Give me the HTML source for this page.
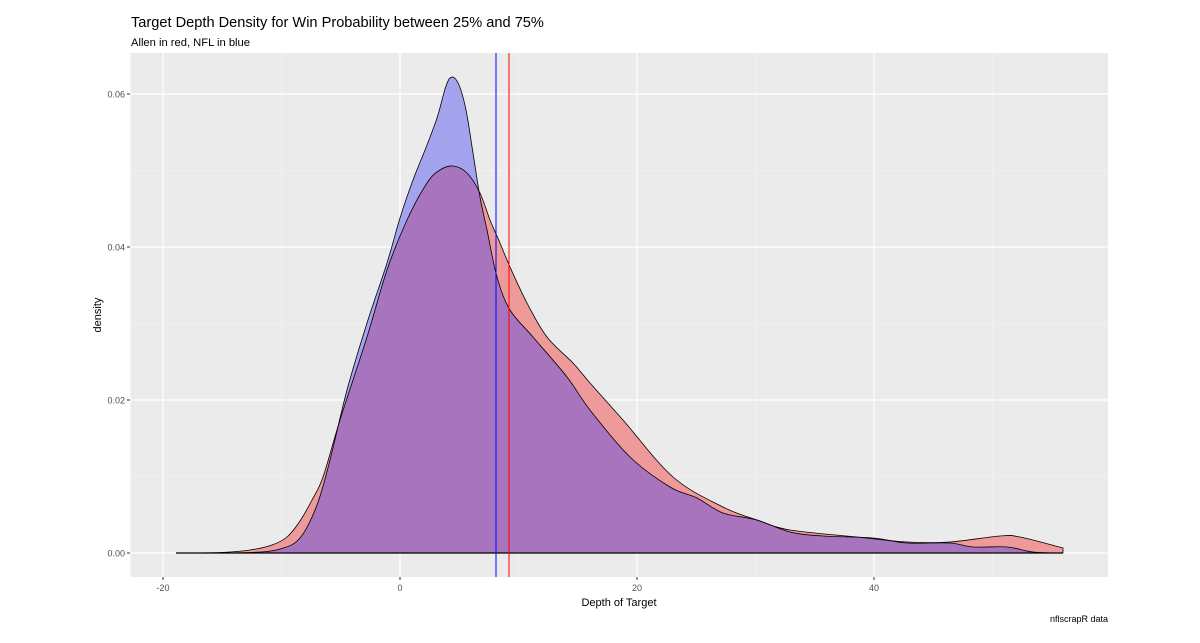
<!DOCTYPE html>
<html><head><meta charset="utf-8"><style>
html,body{margin:0;padding:0;background:#fff;}
svg text{font-family:"Liberation Sans",Arial,sans-serif;}
</style></head><body>
<svg id="s" width="1200" height="638" xmlns="http://www.w3.org/2000/svg">
<rect width="1200" height="638" fill="#fff"/>
<text x="131" y="27" font-size="14.6" fill="#000">Target Depth Density for Win Probability between 25% and 75%</text>
<text x="131" y="46" font-size="11.2" fill="#000">Allen in red, NFL in blue</text>
<rect x="130.5" y="53" width="977.5" height="524" fill="#ebebeb"/>
<g stroke="#f5f5f5" stroke-width="0.6">
<line x1="130.5" x2="1108" y1="476.5" y2="476.5"/><line x1="130.5" x2="1108" y1="323.5" y2="323.5"/><line x1="130.5" x2="1108" y1="170.5" y2="170.5"/>
<line y1="53" y2="577" x1="281.5" x2="281.5"/><line y1="53" y2="577" x1="518.5" x2="518.5"/><line y1="53" y2="577" x1="755.5" x2="755.5"/><line y1="53" y2="577" x1="992.5" x2="992.5"/>
</g>
<g stroke="#fff" stroke-width="1.2">
<line x1="130.5" x2="1108" y1="553" y2="553"/><line x1="130.5" x2="1108" y1="400" y2="400"/><line x1="130.5" x2="1108" y1="247" y2="247"/><line x1="130.5" x2="1108" y1="94" y2="94"/>
<line y1="53" y2="577" x1="163" x2="163"/><line y1="53" y2="577" x1="400" x2="400"/><line y1="53" y2="577" x1="637" x2="637"/><line y1="53" y2="577" x1="874" x2="874"/>
</g>
<defs><clipPath id="cb"><path id="bclip"/></clipPath></defs>
<path id="blue" fill="#a4a4ee" stroke="none"/>
<path id="red" fill="#ee9a9a" stroke="none"/>
<path id="pur" fill="#a874bd" stroke="none" clip-path="url(#cb)"/>
<path id="bl" fill="none" stroke="#000" stroke-width="0.8"/>
<path id="rl" fill="none" stroke="#000" stroke-width="0.8"/>
<line x1="176" x2="1063" y1="553" y2="553" stroke="#000" stroke-width="1.2"/>
<line x1="496" x2="496" y1="53" y2="577" stroke="#0000ff" stroke-width="1"/>
<line x1="509" x2="509" y1="53" y2="577" stroke="#ff0000" stroke-width="1"/>
<g stroke="#333" stroke-width="1">
<line x1="127" x2="130" y1="553" y2="553"/><line x1="127" x2="130" y1="400" y2="400"/><line x1="127" x2="130" y1="247" y2="247"/><line x1="127" x2="130" y1="94" y2="94"/>
<line y1="577" y2="580" x1="163" x2="163"/><line y1="577" y2="580" x1="400" x2="400"/><line y1="577" y2="580" x1="637" x2="637"/><line y1="577" y2="580" x1="874" x2="874"/>
</g>
<g font-size="9" fill="#4d4d4d" text-anchor="end">
<text x="125" y="556.5">0.00</text><text x="125" y="403.5">0.02</text><text x="125" y="250.5">0.04</text><text x="125" y="97.5">0.06</text>
</g>
<g font-size="9" fill="#4d4d4d" text-anchor="middle">
<text x="163" y="591">-20</text><text x="400" y="591">0</text><text x="637" y="591">20</text><text x="874" y="591">40</text>
</g>
<text x="619" y="606" font-size="11" text-anchor="middle" fill="#000">Depth of Target</text>
<text x="101" y="315" font-size="11" text-anchor="middle" fill="#000" transform="rotate(-90 101 315)">density</text>
<text x="1108" y="622" font-size="9" text-anchor="end" fill="#000">nflscrapR data</text>
</svg>
<script>
var B=[[176,553],[250,552.5],[280,549],[300,538],[317,505],[330,460],[347,390],[367,323],[387,263],[400,218],[413,180],[425,150],[437,118],[446,86],[452,77],[459,85],[466,110],[473,153],[480,197],[487,230],[497,277],[510,310],[533,337],[567,377],[590,410],[630,457],[670,487],[697,498],[723,513],[757,520],[790,532],[823,536],[873,538],[907,543],[950,543],[973,547],[1007,547],[1033,552],[1063,553]];
var R=[[176,553],[220,552.5],[250,550],[272,545],[287,537],[300,521],[312,500],[323,477],[340,420],[367,337],[387,270],[407,220],[427,183],[440,170],[453,166],[467,173],[480,193],[490,220],[500,243],[510,267],[527,303],[547,337],[573,363],[590,383],[623,420],[673,477],[723,507],[757,520],[790,530],[857,537],[907,542],[950,542],[1000,536],[1020,537],[1063,548]];
function cr(p){var d="M"+p[0][0]+","+p[0][1];for(var i=0;i<p.length-1;i++){var p0=p[i-1]||p[i],p1=p[i],p2=p[i+1],p3=p[i+2]||p2;
var c1=[p1[0]+(p2[0]-p0[0])/6,p1[1]+(p2[1]-p0[1])/6],c2=[p2[0]-(p3[0]-p1[0])/6,p2[1]-(p3[1]-p1[1])/6];
d+=" C"+c1[0]+","+c1[1]+" "+c2[0]+","+c2[1]+" "+p2[0]+","+p2[1];}return d;}
var bd=cr(B),rd=cr(R);
var bc=bd+" L1063,553 L176,553 Z", rc=rd+" L1063,553 L176,553 Z";
document.getElementById("blue").setAttribute("d",bc);
document.getElementById("red").setAttribute("d",rc);
document.getElementById("bclip").setAttribute("d",bc);
document.getElementById("pur").setAttribute("d",rc);
document.getElementById("bl").setAttribute("d",bd);
document.getElementById("rl").setAttribute("d",rd+" L1063,553");
</script>
</body></html>
